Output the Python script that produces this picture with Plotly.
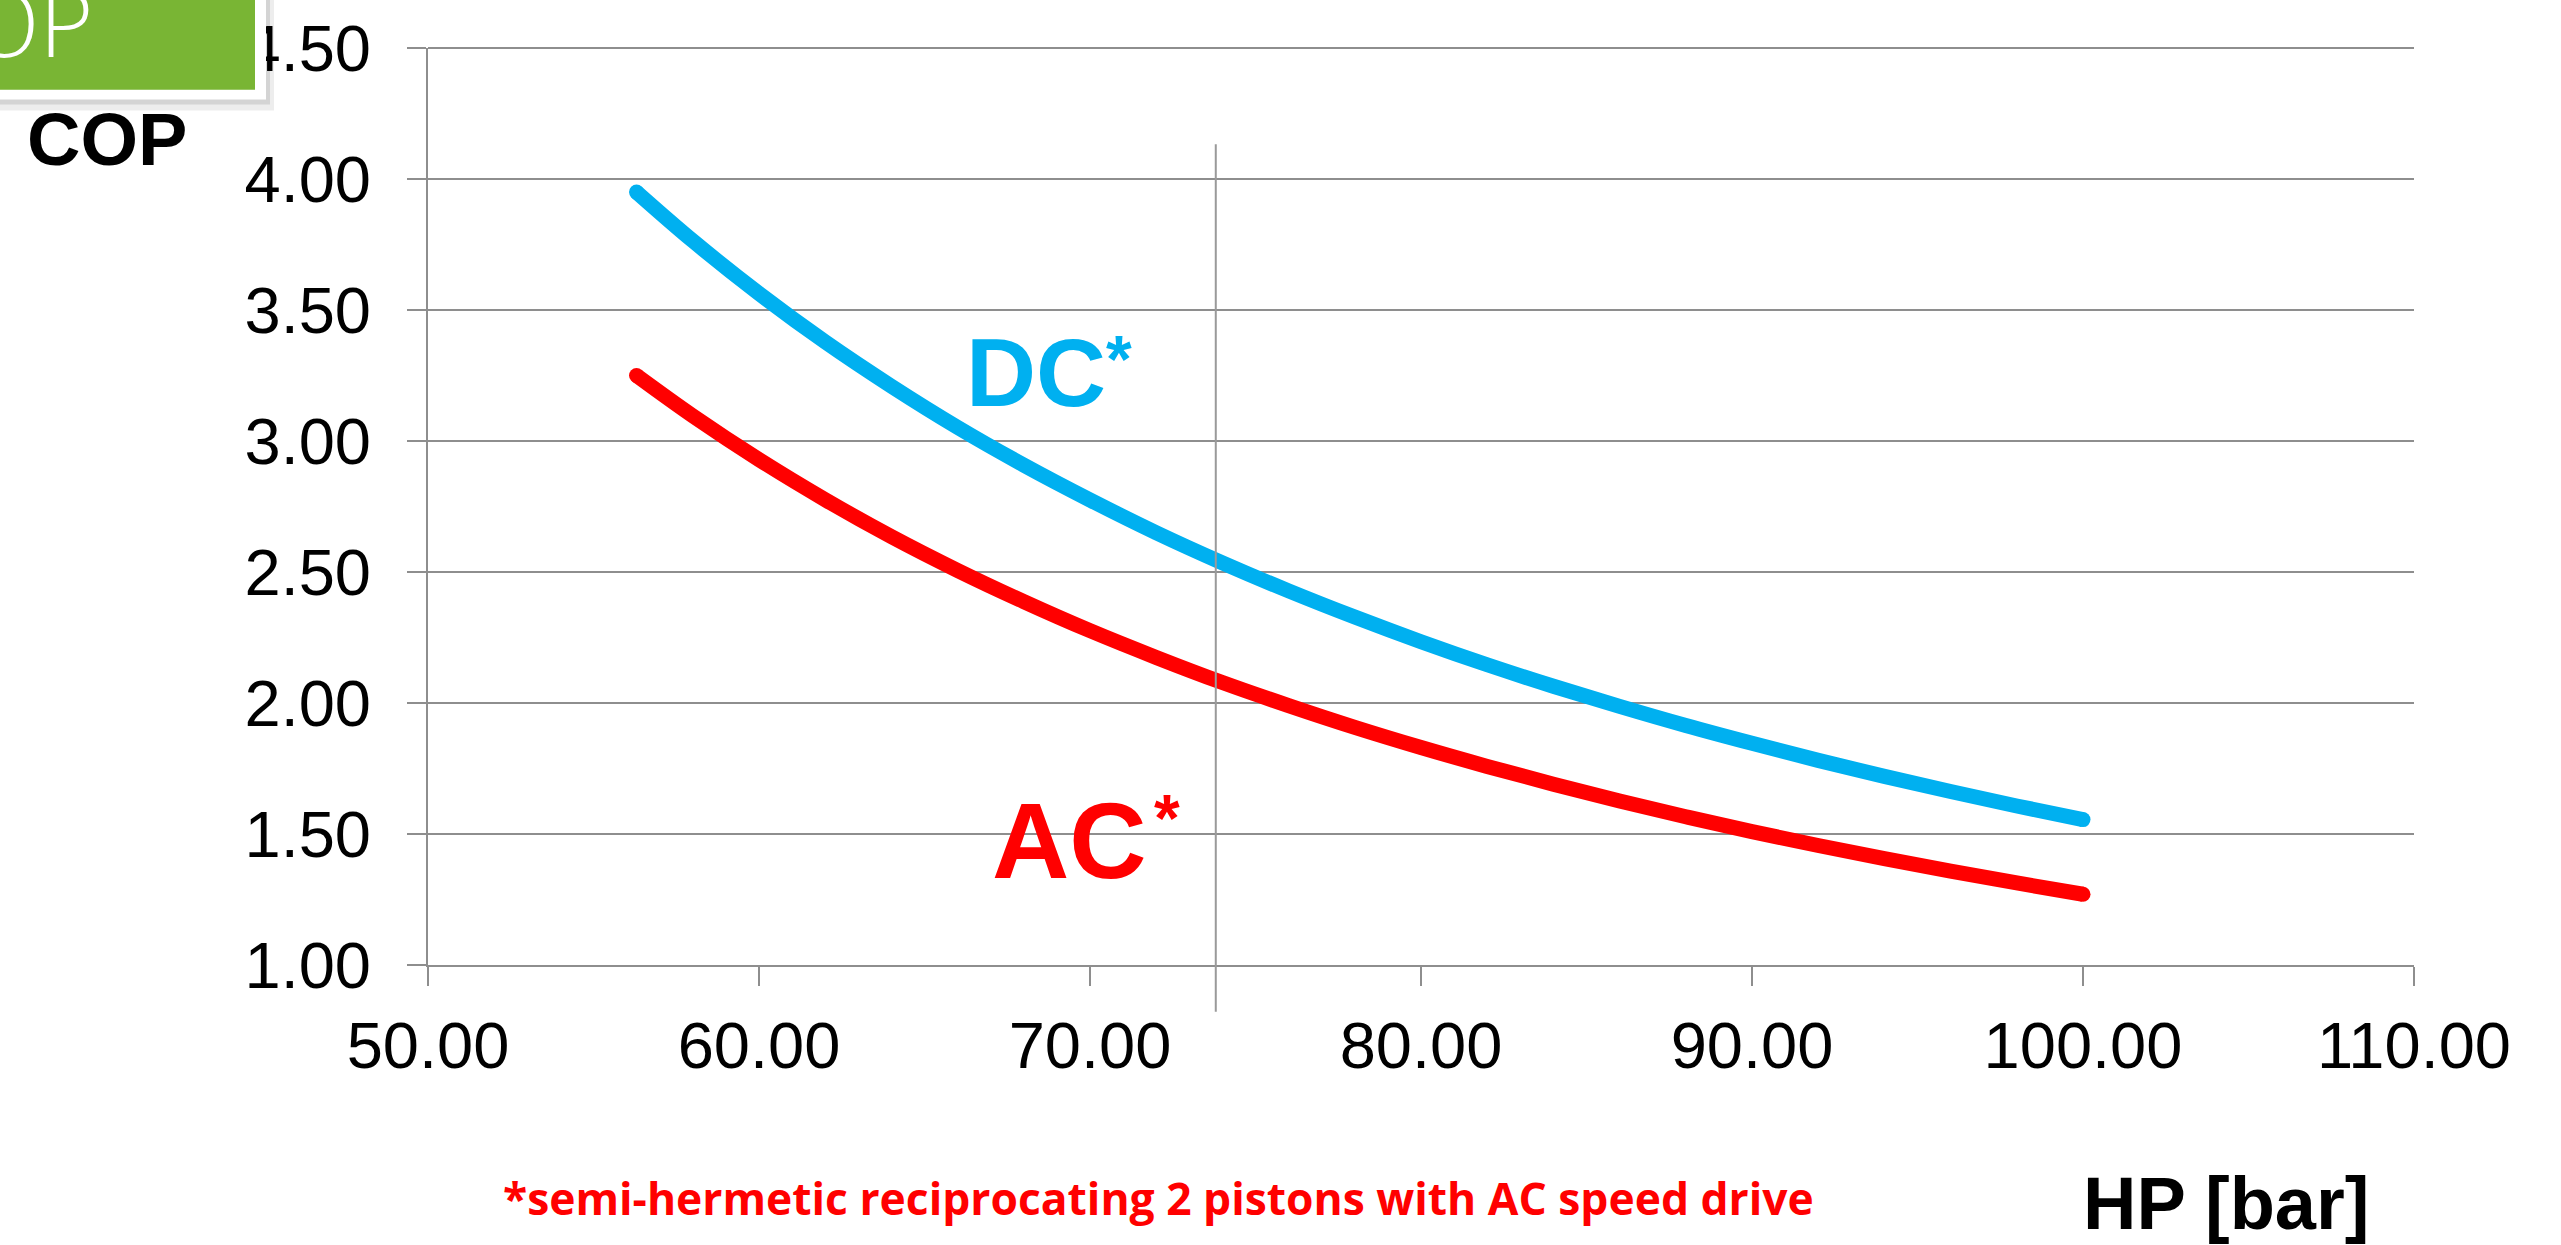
import plotly.graph_objects as go

# ---- data ----
hp_bar = [56.3, 58, 60, 62, 64, 66, 68, 70, 72, 74, 76, 78, 80, 82, 84, 86, 88, 90, 92, 94, 96, 98, 100]
cop_dc = [3.950, 3.764, 3.563, 3.378, 3.209, 3.052, 2.908, 2.775, 2.650, 2.535, 2.428, 2.328, 2.234, 2.146,
          2.064, 1.987, 1.914, 1.846, 1.781, 1.720, 1.662, 1.607, 1.555]
cop_ac = [3.250, 3.096, 2.929, 2.776, 2.635, 2.506, 2.387, 2.276, 2.174, 2.078, 1.990, 1.907, 1.830, 1.758,
          1.690, 1.626, 1.566, 1.509, 1.456, 1.406, 1.358, 1.313, 1.270]
x_ticks = [50, 60, 70, 80, 90, 100, 110]
y_ticks = [1.0, 1.5, 2.0, 2.5, 3.0, 3.5, 4.0, 4.5]
marker_hp = 73.8

BLUE = "#00B0F0"
RED = "#FF0000"
GRID = "#8E8E8E"
GREEN = "#79B534"

W, H = 2561, 1245
L, R, T, B = 428, 147, 41, 280
PW, PH = W - L - R, H - T - B


def px_x(p):
    return (p - L) / PW


def px_y(p):
    return (H - B - p) / PH


fig = go.Figure()
for ys, col in ((cop_ac, RED), (cop_dc, BLUE)):
    fig.add_trace(go.Scatter(x=hp_bar, y=ys, mode="lines", line=dict(color=col, width=15, shape="spline"),
                             hoverinfo="skip", showlegend=False))
    fig.add_trace(go.Scatter(x=[hp_bar[0], hp_bar[-1]], y=[ys[0], ys[-1]], mode="markers",
                             marker=dict(color=col, size=15), cliponaxis=False,
                             hoverinfo="skip", showlegend=False))

shapes = [
    dict(type="line", xref="paper", yref="paper", x0=0, x1=1, y0=1, y1=1,
         line=dict(color=GRID, width=2), layer="below"),
    dict(type="line", xref="x", yref="paper", x0=marker_hp, x1=marker_hp, y0=px_y(1012), y1=px_y(138),
         line=dict(color="#9A9A9A", width=2)),
    # green title box (partly off-canvas) with shadow and white border
    dict(type="rect", xref="paper", yref="paper", x0=px_x(-60), x1=px_x(274), y0=px_y(104), y1=px_y(-60),
         fillcolor="rgba(0,0,0,0.07)", line=dict(width=0), layer="above"),
    dict(type="rect", xref="paper", yref="paper", x0=px_x(-60), x1=px_x(270), y0=px_y(98), y1=px_y(-60),
         fillcolor="rgba(0,0,0,0.10)", line=dict(width=0), layer="above"),
    dict(type="rect", xref="paper", yref="paper", x0=px_x(-60), x1=px_x(266), y0=px_y(93), y1=px_y(-60),
         fillcolor="white", line=dict(width=0), layer="above"),
    dict(type="rect", xref="paper", yref="paper", x0=px_x(-60), x1=px_x(255), y0=px_y(83), y1=px_y(-60),
         fillcolor=GREEN, line=dict(width=0), layer="above"),
]

annotations = [
    dict(text="COP", xref="paper", yref="paper", x=px_x(95), y=px_y(14), xanchor="right", yanchor="middle",
         showarrow=False, font=dict(family="Open Sans", size=92, color="white", weight=300)),
    dict(text="<b>COP</b>", xref="paper", yref="paper", x=px_x(107), y=px_y(133), xanchor="center",
         yanchor="middle", showarrow=False, font=dict(family="Liberation Sans", size=74, color="black")),
    dict(text="<b>HP [bar]</b>", xref="paper", yref="paper", x=px_x(2226), y=px_y(1205), xanchor="center",
         yanchor="middle", showarrow=False, font=dict(family="Liberation Sans", size=74, color="black")),
    dict(text="<b>DC</b>", xref="paper", yref="paper", x=px_x(964), y=px_y(368), xanchor="left",
         yanchor="middle", showarrow=False, font=dict(family="Liberation Sans", size=97, color=BLUE)),
    dict(text="<b>*</b>", xref="paper", yref="paper", x=px_x(1104), y=px_y(354), xanchor="left",
         yanchor="middle", showarrow=False, font=dict(family="Liberation Sans", size=66, color=BLUE)),
    dict(text="<b>AC</b>", xref="paper", yref="paper", x=px_x(990), y=px_y(840), xanchor="left",
         yanchor="middle", showarrow=False, font=dict(family="Liberation Sans", size=107, color=RED)),
    dict(text="<b>*</b>", xref="paper", yref="paper", x=px_x(1152), y=px_y(817), xanchor="left",
         yanchor="middle", showarrow=False, font=dict(family="Liberation Sans", size=66, color=RED)),
    dict(text="<b>*semi-hermetic reciprocating 2 pistons with AC speed drive</b>", xref="paper", yref="paper",
         x=px_x(1158), y=px_y(1200), xanchor="center", yanchor="middle", showarrow=False,
         font=dict(family="Open Sans", size=44.4, color=RED)),
]

axis_common = dict(gridcolor=GRID, gridwidth=2, showline=True, linecolor=GRID, linewidth=2,
                   ticks="outside", ticklen=19, tickwidth=2, tickcolor=GRID, zeroline=False,
                   tickfont=dict(family="Liberation Sans", size=65, color="black"))

fig.update_layout(
    width=W, height=H,
    margin=dict(l=L, r=R, t=T, b=B),
    paper_bgcolor="white", plot_bgcolor="white",
    xaxis=dict(range=[50, 110], tickvals=x_ticks, ticktext=[f"{v:.2f}" for v in x_ticks],
               showgrid=False, ticklabelstandoff=4, **axis_common),
    yaxis=dict(range=[1, 4.5], tickvals=y_ticks, ticktext=[f"{v:.2f}" for v in y_ticks],
               showgrid=True, ticklabelstandoff=23, **axis_common),
    shapes=shapes,
    annotations=annotations,
)

fig.write_html("out.html")
